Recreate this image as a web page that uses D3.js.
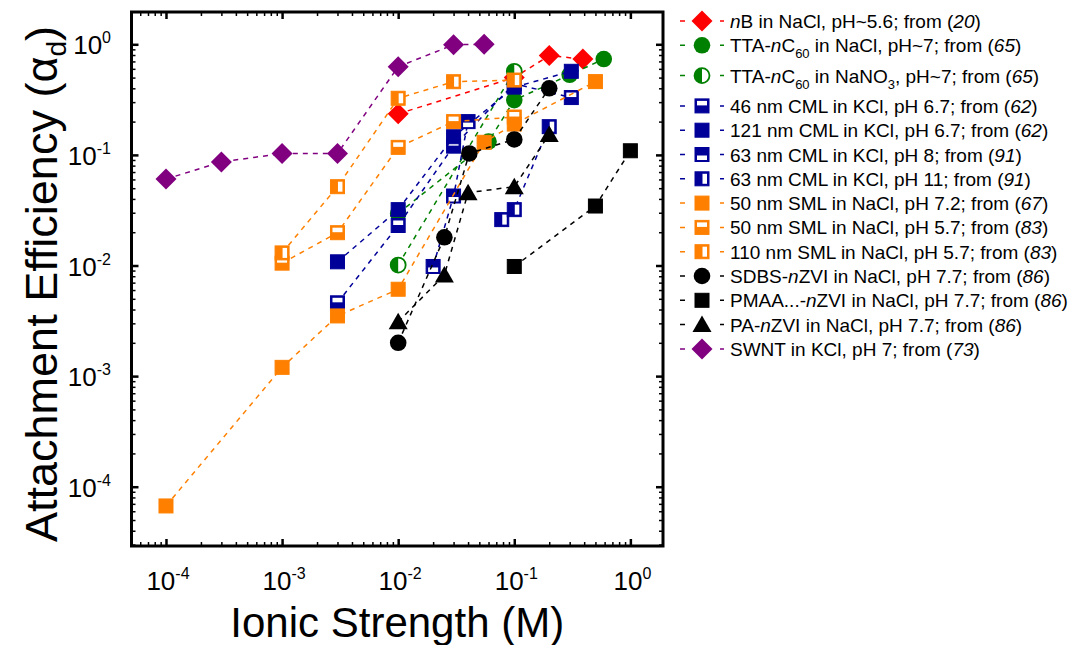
<!DOCTYPE html>
<html>
<head>
<meta charset="utf-8">
<script src="https://cdn.jsdelivr.net/npm/d3@7"></script>
<style>
  body { margin: 0; background: #fff; }
  svg { font-family: "Liberation Sans", Arial, sans-serif; }
</style>
</head>
<body>
<svg width="1076" height="645"></svg>
<script>
// ionic strength (M) and attachment efficiency, one pair of arrays per series
var nbX = [0.01, 0.1, 0.2, 0.39];
var nbY = [0.235, 0.50, 0.79, 0.735];
var ttaNaclX = [0.01, 0.06, 0.1, 0.3, 0.59];
var ttaNaclY = [0.0296, 0.132, 0.313, 0.53, 0.736];
var ttaNano3X = [0.01, 0.1];
var ttaNano3Y = [0.0101, 0.57];
var cml46X = [0.003, 0.01, 0.03, 0.1, 0.31];
var cml46Y = [0.0046, 0.023, 0.12, 0.44, 0.33];
var cml121X = [0.003, 0.01, 0.03, 0.1, 0.31];
var cml121Y = [0.0108, 0.032, 0.146, 0.41, 0.57];
var cml63ph8X = [0.02, 0.03, 0.04];
var cml63ph8Y = [0.0098, 0.0425, 0.2];
var cml63ph11X = [0.078, 0.1, 0.2];
var cml63ph11Y = [0.026, 0.032, 0.18];
var sml50ph72X = [0.0001, 0.001, 0.003, 0.01, 0.055, 0.1, 0.5];
var sml50ph72Y = [0.000067, 0.0012, 0.0035, 0.0061, 0.13, 0.19, 0.46];
var sml50ph57X = [0.001, 0.003, 0.01, 0.03, 0.1];
var sml50ph57Y = [0.0105, 0.0198, 0.117, 0.2, 0.22];
var sml110X = [0.001, 0.003, 0.01, 0.03, 0.1];
var sml110Y = [0.013, 0.0516, 0.325, 0.459, 0.475];
var sdbsX = [0.01, 0.025, 0.041, 0.1, 0.2];
var sdbsY = [0.002, 0.018, 0.103, 0.138, 0.40];
var pmaaX = [0.1, 0.5, 1.0];
var pmaaY = [0.0098, 0.0345, 0.109];
var paX = [0.01, 0.025, 0.04, 0.1, 0.2];
var paY = [0.0031, 0.0082, 0.0455, 0.0516, 0.153];
var swntX = [0.0001, 0.0003, 0.001, 0.003, 0.01, 0.03, 0.055];
var swntY = [0.0605, 0.0863, 0.103, 0.103, 0.627, 0.99, 1.0];

// legend labels: {..} italic, [..] subscript
var labels = [
  "{n}B in NaCl, pH~5.6; from ({20})",
  "TTA-{n}C[60] in NaCl, pH~7; from ({65})",
  "TTA-{n}C[60] in NaNO[3], pH~7; from ({65})",
  "46 nm CML in KCl, pH 6.7; from ({62})",
  "121 nm CML in KCl, pH 6.7; from ({62})",
  "63 nm CML in KCl, pH 8; from ({91})",
  "63 nm CML in KCl, pH 11; from ({91})",
  "50 nm SML in NaCl, pH 7.2; from ({67})",
  "50 nm SML in NaCl, pH 5.7; from ({83})",
  "110 nm SML in NaCl, pH 5.7; from ({83})",
  "SDBS-{n}ZVI in NaCl, pH 7.7; from ({86})",
  "PMAA...-{n}ZVI in NaCl, pH 7.7; from ({86})",
  "PA-{n}ZVI in NaCl, pH 7.7; from ({86})",
  "SWNT in KCl, pH 7; from ({73})"
];
var majorTicks = [1e-4, 1e-3, 1e-2, 1e-1, 1];
var yMajorTicks = [1e-4, 1e-3, 1e-2, 1e-1, 1];
var tickExponents = ["-4", "-3", "-2", "-1", "0"];

var red = "#ff0000", green = "#008000", blue = "#000099", orange = "#ff8000", purple = "#800080";

var series = [
  {x: nbX, y: nbY, color: red, marker: "diamond"},
  {x: ttaNaclX, y: ttaNaclY, color: green, marker: "circle"},
  {x: ttaNano3X, y: ttaNano3Y, color: green, marker: "halfcircle"},
  {x: cml46X, y: cml46Y, color: blue, marker: "sqTop"},
  {x: cml121X, y: cml121Y, color: blue, marker: "square"},
  {x: cml63ph8X, y: cml63ph8Y, color: blue, marker: "sqBottom"},
  {x: cml63ph11X, y: cml63ph11Y, color: blue, marker: "sqRight"},
  {x: sml50ph72X, y: sml50ph72Y, color: orange, marker: "square"},
  {x: sml50ph57X, y: sml50ph57Y, color: orange, marker: "sqTop"},
  {x: sml110X, y: sml110Y, color: orange, marker: "sqRight"},
  {x: sdbsX, y: sdbsY, color: "#000", marker: "circle"},
  {x: pmaaX, y: pmaaY, color: "#000", marker: "square"},
  {x: paX, y: paY, color: "#000", marker: "triangle"},
  {x: swntX, y: swntY, color: purple, marker: "diamond"}
];

var svg = d3.select("svg");
var plotL = 131.5, plotR = 663, plotT = 12, plotB = 546;

var x = d3.scaleLog()
  .domain([Math.pow(10, -4.297), Math.pow(10, 0.281)])
  .range([plotL, plotR]);
var y = d3.scaleLog()
  .domain([Math.pow(10, -4.536), Math.pow(10, 0.292)])
  .range([plotB, plotT]);

function minorTicks(scale) {
  var d = scale.domain(), out = [];
  for (var e = -5; e <= 0; e++) {
    for (var m = 2; m <= 9; m++) {
      var v = m * Math.pow(10, e);
      if (v > d[0] && v < d[1]) out.push(v);
    }
  }
  return out;
}

// ticks on all four sides, pointing inward
function drawTicks(axisFn, scale, values, size, width, transform) {
  svg.append("g")
    .attr("transform", transform)
    .call(axisFn(scale).tickValues(values).tickSize(-size).tickFormat(""))
    .call(function(g) { g.select(".domain").remove(); })
    .selectAll("line")
    .attr("stroke", "#000")
    .attr("stroke-width", width);
}
drawTicks(d3.axisBottom, x, majorTicks, 7, 2.5, "translate(0," + plotB + ")");
drawTicks(d3.axisBottom, x, minorTicks(x), 4, 1.5, "translate(0," + plotB + ")");
drawTicks(d3.axisTop, x, majorTicks, 7, 2.5, "translate(0," + plotT + ")");
drawTicks(d3.axisTop, x, minorTicks(x), 4, 1.5, "translate(0," + plotT + ")");
drawTicks(d3.axisLeft, y, yMajorTicks, 7, 2.5, "translate(" + plotL + ",0)");
drawTicks(d3.axisLeft, y, minorTicks(y), 4, 1.5, "translate(" + plotL + ",0)");
drawTicks(d3.axisRight, y, yMajorTicks, 7, 2.5, "translate(" + plotR + ",0)");
drawTicks(d3.axisRight, y, minorTicks(y), 4, 1.5, "translate(" + plotR + ",0)");

svg.append("rect")
  .attr("x", plotL).attr("y", plotT)
  .attr("width", plotR - plotL).attr("height", plotB - plotT)
  .attr("fill", "none").attr("stroke", "#000").attr("stroke-width", 3);

// tick labels like 10^-4
function powerLabel(sel, exp) {
  sel.append("tspan").text("10");
  sel.append("tspan").attr("font-size", 16).attr("dy", -11).text(exp);
}
majorTicks.forEach(function(v, i) {
  svg.append("text")
    .attr("x", x(v) + 2).attr("y", 590)
    .attr("text-anchor", "middle")
    .attr("font-size", 26)
    .call(powerLabel, tickExponents[i]);
});
yMajorTicks.forEach(function(v, i) {
  svg.append("text")
    .attr("x", 111).attr("y", y(v) + 10)
    .attr("text-anchor", "end")
    .attr("font-size", 26)
    .call(powerLabel, tickExponents[i]);
});

svg.append("text")
  .attr("x", (plotL + plotR) / 2).attr("y", 637)
  .attr("text-anchor", "middle")
  .attr("font-size", 42)
  .text("Ionic Strength (M)");

var yt = svg.append("text")
  .attr("transform", "translate(57,284) rotate(-90)")
  .attr("text-anchor", "middle")
  .attr("font-size", 45);
yt.append("tspan").text("Attachment Efficiency (\u03b1");
yt.append("tspan").attr("font-size", 28).attr("dy", 9).text("d");
yt.append("tspan").attr("dy", -9).text(")");

// markers
function drawMarker(g, type, color) {
  var s = 14;
  if (type === "diamond") {
    g.append("path").attr("d", "M0,-10.5L10.5,0L0,10.5L-10.5,0Z").attr("fill", color);
  } else if (type === "circle") {
    g.append("circle").attr("r", 8.3).attr("fill", color);
  } else if (type === "halfcircle") {
    g.append("circle").attr("r", 7.5).attr("fill", "#fff").attr("stroke", color).attr("stroke-width", 1.8);
    g.append("path").attr("d", "M0,-7.5A7.5,7.5 0 0 0 0,7.5Z").attr("fill", color);
  } else if (type === "triangle") {
    g.append("path").attr("d", "M0,-9L9.5,7.5L-9.5,7.5Z").attr("fill", color);
  } else {
    g.append("rect").attr("x", -s / 2).attr("y", -s / 2).attr("width", s).attr("height", s)
      .attr("fill", color).attr("stroke", color).attr("stroke-width", 1);
    var w = null;
    if (type === "sqTop") w = [-s / 2 + 2, -s / 2 + 2, s - 4, 4.5];
    if (type === "sqBottom") w = [-s / 2 + 2, 1, s - 4, 4.5];
    if (type === "sqRight") w = [0.5, -s / 2 + 2, 4.5, s - 4];
    if (w) g.append("rect").attr("x", w[0]).attr("y", w[1]).attr("width", w[2]).attr("height", w[3]).attr("fill", "#fff");
  }
}

var line = d3.line()
  .x(function(d) { return x(d[0]); })
  .y(function(d) { return y(d[1]); });

var plot = svg.append("g");
series.forEach(function(s) {
  var pts = s.x.map(function(v, i) { return [v, s.y[i]]; });
  var g = plot.append("g");
  g.append("path")
    .attr("d", line(pts))
    .attr("fill", "none")
    .attr("stroke", s.color)
    .attr("stroke-width", 1.5)
    .attr("stroke-dasharray", "5,5");
  g.selectAll("g.pt")
    .data(pts)
    .enter().append("g")
    .attr("class", "pt")
    .attr("transform", function(d) { return "translate(" + x(d[0]) + "," + y(d[1]) + ")"; })
    .each(function() { drawMarker(d3.select(this), s.marker, s.color); });
});

// legend
function richText(sel, str) {
  var re = /\{([^}]*)\}|\[([^\]]*)\]|([^{\[]+)/g, m, sub = false;
  while ((m = re.exec(str)) !== null) {
    if (m[1] !== undefined) {
      sel.append("tspan").attr("font-style", "italic").attr("dy", sub ? -6 : 0).text(m[1]);
      sub = false;
    } else if (m[2] !== undefined) {
      sel.append("tspan").attr("font-size", 13).attr("dy", sub ? 0 : 6).text(m[2]);
      sub = true;
    } else {
      sel.append("tspan").attr("dy", sub ? -6 : 0).text(m[3]);
      sub = false;
    }
  }
}

var legend = svg.append("g");
series.forEach(function(s, i) {
  var ly = 21 + i * 24.3 + (i >= 3 ? 12 : i === 2 ? 6 : 0);
  var row = legend.append("g").attr("transform", "translate(0," + ly + ")");
  row.append("line")
    .attr("x1", 680).attr("x2", 724)
    .attr("stroke", s.color).attr("stroke-width", 1.5)
    .attr("stroke-dasharray", "5,15");
  drawMarker(row.append("g").attr("transform", "translate(702,0)"), s.marker, s.color);
  row.append("text")
    .attr("x", 730).attr("y", 7)
    .attr("font-size", 19)
    .call(richText, labels[i]);
});
</script>
</body>
</html>
